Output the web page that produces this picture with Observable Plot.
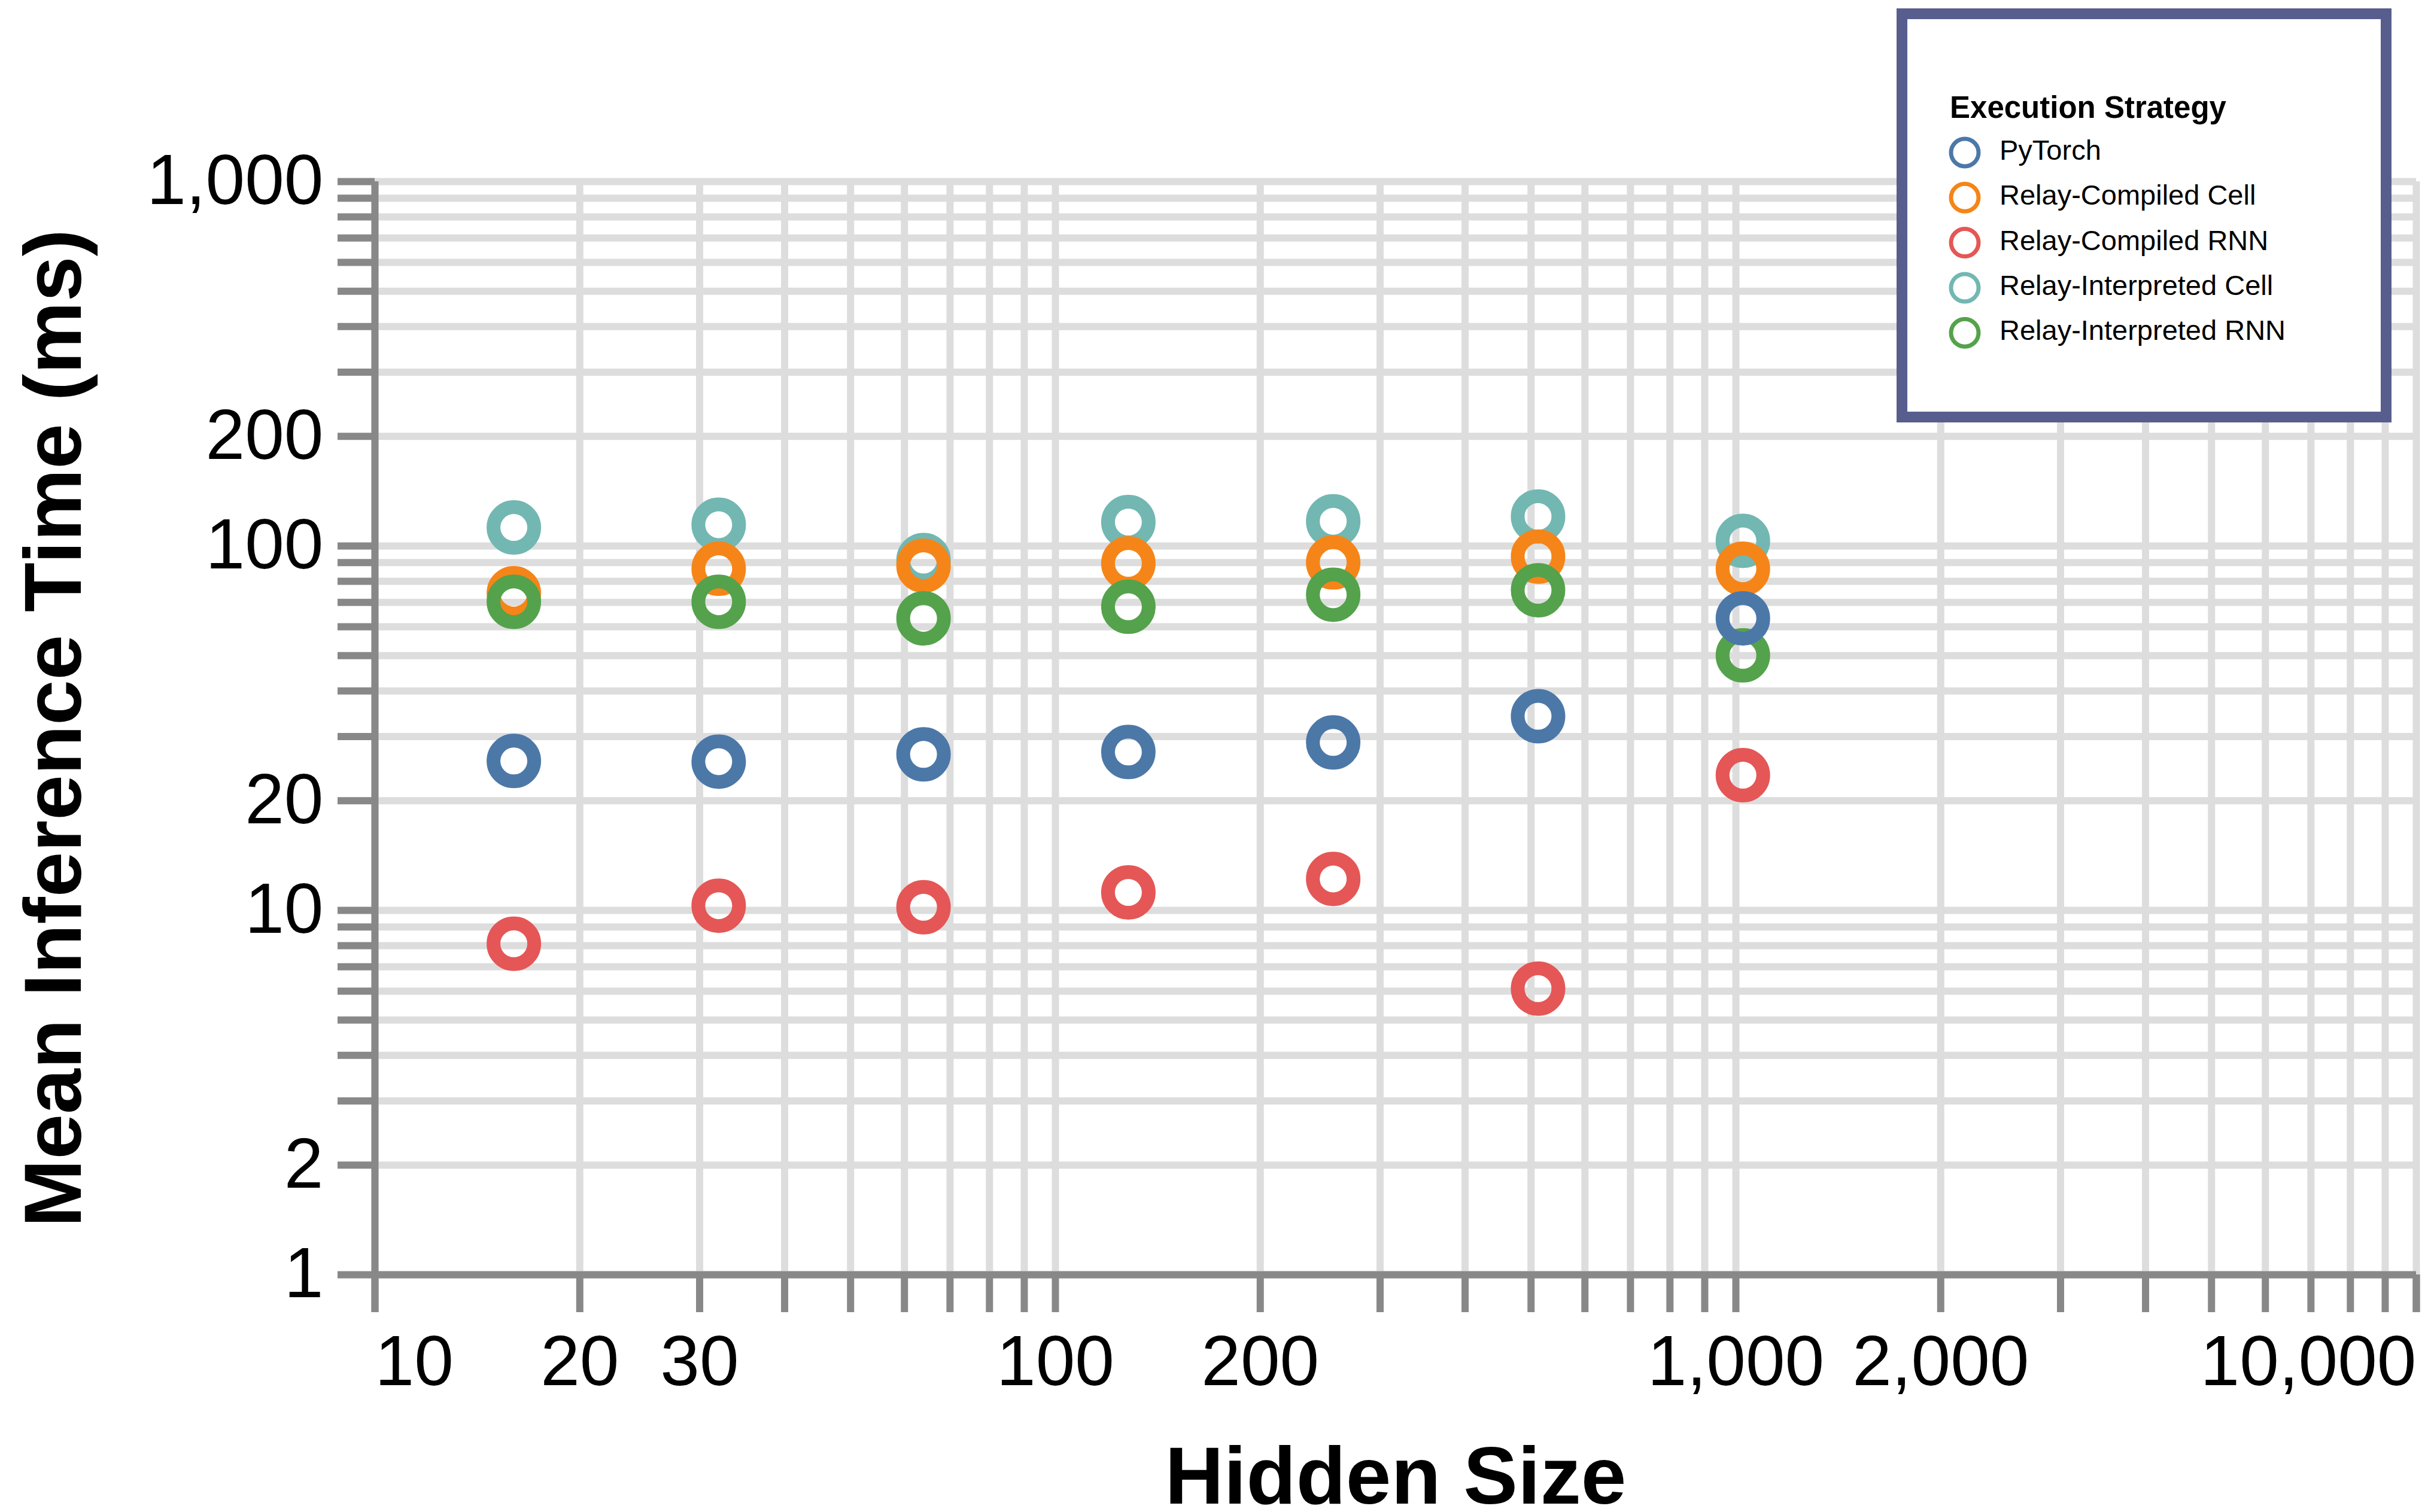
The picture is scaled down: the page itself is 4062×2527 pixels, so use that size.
<!DOCTYPE html>
<html>
<head>
<meta charset="utf-8">
<script src="https://cdn.jsdelivr.net/npm/d3@7"></script>
<script src="https://cdn.jsdelivr.net/npm/@observablehq/plot@0.6"></script>
<style>
  html, body { margin: 0; padding: 0; background: white; }
  #wrap { position: relative; width: 4062px; height: 2527px; font-family: 'Liberation Sans', Arial, Helvetica, sans-serif; }
  #legend { position: absolute; left: 3169px; top: 14px; }
</style>
</head>
<body>
<div id="wrap"><div id="legend"></div></div>
<script>
// ---- data ----
const hiddenSizes = [16, 32, 64, 128, 256, 512, 1024];
const series = ["PyTorch", "Relay-Compiled Cell", "Relay-Compiled RNN", "Relay-Interpreted Cell", "Relay-Interpreted RNN"];
const colors = ["#4c78a8", "#f58518", "#e45756", "#72b7b2", "#54a24b"];
const pytorch              = [25.7, 25.6, 26.8, 27.2, 28.9, 34.1, 63.3];
const relayCompiledCell    = [74.2, 86.6, 88.3, 89.6, 90.1, 93.5, 86.6];
const relayCompiledRNN     = [8.1, 10.3, 10.2, 11.2, 12.2, 6.1, 23.5];
const relayInterpretedCell = [112.4, 114.4, 91.5, 116.3, 116.9, 120.5, 103.3];
const relayInterpretedRNN  = [70.3, 70.3, 63.3, 68.1, 73.5, 75.6, 50.1];
const seriesValues = [pytorch, relayCompiledCell, relayCompiledRNN, relayInterpretedCell, relayInterpretedRNN];
const drawOrder = [3, 1, 4, 0, 2];

const xTicks = [10,20,30,40,50,60,70,80,90,100,200,300,400,500,600,700,800,900,1000,2000,3000,4000,5000,6000,7000,8000,9000,10000];
const xLabelsMid = [20, 30, 100, 200, 1000, 2000];
const xLabelStart = [10];
const xLabelEnd = [10000];
const yTicks = [1,2,3,4,5,6,7,8,9,10,20,30,40,50,60,70,80,90,100,200,300,400,500,600,700,800,900,1000];
const yLabels = [1, 2, 10, 20, 100, 200, 1000];

const xTitle = "Hidden Size";
const yTitle = "Mean Inference Time (ms)";
const legendTitle = "Execution Strategy";

// ---- build table ----
const data = [];
for (const s of drawOrder) {
  hiddenSizes.forEach((h, i) => data.push({size: h, time: seriesValues[s][i], strategy: series[s]}));
}

const fmt = d3.format(",");
const axisStyle = {stroke: "#888", strokeWidth: 12, fill: "black", fontSize: 118, label: null};

const chart = Plot.plot({
  width: 4062,
  height: 2527,
  marginLeft: 626,
  marginRight: 25,
  marginTop: 303,
  marginBottom: 397,
  style: {fontFamily: "'Liberation Sans', Arial, Helvetica, sans-serif", background: "white", color: "black", overflow: "visible"},
  x: {type: "log", domain: [10, 10000]},
  y: {type: "log", domain: [1, 1000]},
  color: {domain: series, range: colors},
  marks: [
    Plot.gridX(xTicks, {stroke: "#dddddd", strokeOpacity: 1, strokeWidth: 12}),
    Plot.gridY(yTicks, {stroke: "#dddddd", strokeOpacity: 1, strokeWidth: 12}),
    Plot.axisY(yTicks, {...axisStyle, tickSize: 62, tickPadding: 24,
      tickFormat: d => yLabels.includes(d) ? fmt(d) : ""}),
    Plot.axisX(xTicks, {...axisStyle, tickSize: 63, tickPadding: 38,
      tickFormat: d => xLabelsMid.includes(d) ? fmt(d) : ""}),
    Plot.axisX(xLabelStart, {...axisStyle, tickSize: 63, tickPadding: 38, textAnchor: "start", tickFormat: fmt}),
    Plot.axisX(xLabelEnd, {...axisStyle, tickSize: 63, tickPadding: 38, textAnchor: "end", tickFormat: fmt}),
    Plot.ruleX([10], {stroke: "#888", strokeWidth: 12}),
    Plot.ruleY([1], {stroke: "#888", strokeWidth: 12}),
    Plot.dot(data, {x: "size", y: "time", stroke: "strategy", r: 34, strokeWidth: 23, fill: "none"}),
    Plot.text([xTitle], {text: d => d, frameAnchor: "bottom", lineAnchor: "top", dy: 286,
      fontSize: 136, fontWeight: "bold", fill: "black"}),
    Plot.text([yTitle], {text: d => d, frameAnchor: "left", rotate: -90, lineAnchor: "top", textAnchor: "middle",
      dx: -588, fontSize: 136, fontWeight: "bold", fill: "black"})
  ]
});
document.getElementById("wrap").insertBefore(chart, document.getElementById("legend"));

// ---- legend ----
const lw = 827, lh = 692, border = 18;
const lsvg = d3.select("#legend").append("svg")
  .attr("width", lw).attr("height", lh)
  .style("font-family", "'Liberation Sans', Arial, Helvetica, sans-serif")
  .style("display", "block");
lsvg.append("rect")
  .attr("x", border / 2).attr("y", border / 2)
  .attr("width", lw - border).attr("height", lh - border)
  .attr("fill", "white").attr("stroke", "#575e8d").attr("stroke-width", border);
lsvg.append("text")
  .attr("x", 89).attr("y", 183)
  .attr("font-size", 51).attr("font-weight", "bold").attr("fill", "black")
  .text(legendTitle);
const items = lsvg.selectAll("g.item").data(series).join("g")
  .attr("transform", (d, i) => `translate(0, ${241 + i * 75.3})`);
items.append("circle")
  .attr("cx", 114).attr("cy", 0).attr("r", 23)
  .attr("fill", "none").attr("stroke-width", 7)
  .attr("stroke", (d, i) => colors[i]);
items.append("text")
  .attr("x", 172).attr("y", 12)
  .attr("font-size", 47).attr("fill", "black")
  .text(d => d);
</script>
</body>
</html>
